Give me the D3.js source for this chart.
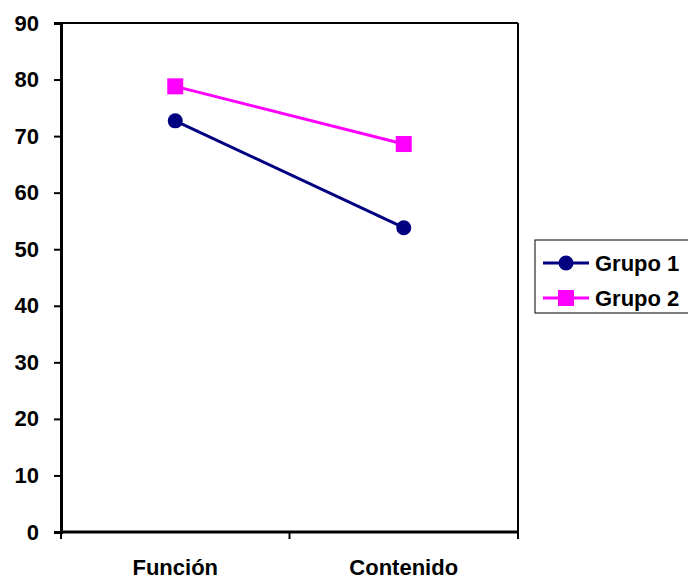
<!DOCTYPE html>
<html>
<head>
<meta charset="utf-8">
<script src="https://cdn.jsdelivr.net/npm/d3@7"></script>
<style>
  body { margin: 0; background: #fff; overflow: hidden; }
  text { font-family: "Liberation Sans", Arial, sans-serif; font-weight: bold; }
</style>
</head>
<body>
<div id="chart"></div>
<script>
var categories = ['Función', 'Contenido']
var grupo1 = [72.7, 53.8]
var grupo2 = [78.8, 68.6]
var yTicks = [0, 10, 20, 30, 40, 50, 60, 70, 80, 90]
var seriesNames = ['Grupo 1', 'Grupo 2']
var seriesColors = ['#000080', '#FF00FF']

var width = 688, height = 577
var margin = {top: 23, left: 61, right: 170, bottom: 45}
var plotW = 518 - margin.left, plotH = 532 - margin.top

var svg = d3.select('#chart').append('svg').attr('width', width).attr('height', height)

var x = d3.scaleBand().domain(categories).range([0, plotW])
var y = d3.scaleLinear().domain([0, 90]).range([plotH, 0])

var g = svg.append('g').attr('transform', 'translate(' + margin.left + ',' + margin.top + ')')

// frame top / right
g.append('line').attr('x1', 0).attr('x2', plotW).attr('y1', 0).attr('y2', 0).attr('stroke', '#000').attr('stroke-width', 2)
g.append('line').attr('x1', plotW).attr('x2', plotW).attr('y1', 0).attr('y2', plotH).attr('stroke', '#000').attr('stroke-width', 2)

// y axis
var yAxis = d3.axisLeft(y).tickValues(yTicks).tickSize(7).tickPadding(15)
var ya = g.append('g').call(yAxis)
ya.select('.domain').attr('stroke-width', 3)
ya.selectAll('.tick line').attr('stroke-width', 2)
ya.selectAll('.tick text').attr('font-size', 22).attr('fill', '#000')
  .style('font-family', '"Liberation Sans", Arial, sans-serif').style('font-weight', 'bold')

// x axis: ticks at band edges
var xa = g.append('g').attr('transform', 'translate(0,' + plotH + ')')
xa.append('line').attr('x1', 0).attr('x2', plotW).attr('stroke', '#000').attr('stroke-width', 3)
var edges = categories.map(c => x(c)).concat([plotW])
xa.selectAll('line.tk').data(edges).enter().append('line').attr('class', 'tk')
  .attr('x1', d => d).attr('x2', d => d).attr('y1', 0).attr('y2', 7)
  .attr('stroke', '#000').attr('stroke-width', 2)
xa.selectAll('text').data(categories).enter().append('text')
  .attr('x', d => x(d) + x.bandwidth() / 2).attr('y', 43)
  .attr('text-anchor', 'middle').attr('font-size', 22).text(d => d)

var line = d3.line().x((d, i) => x(categories[i]) + x.bandwidth() / 2).y(d => y(d))

;[grupo1, grupo2].forEach((s, k) => {
  g.append('path').datum(s).attr('d', line).attr('fill', 'none')
    .attr('stroke', seriesColors[k]).attr('stroke-width', 3)
})
g.selectAll('circle.g1').data(grupo1).enter().append('circle')
  .attr('cx', (d, i) => x(categories[i]) + x.bandwidth() / 2).attr('cy', d => y(d))
  .attr('r', 7.5).attr('fill', seriesColors[0])
g.selectAll('rect.g2').data(grupo2).enter().append('rect')
  .attr('x', (d, i) => x(categories[i]) + x.bandwidth() / 2 - 8).attr('y', d => y(d) - 8)
  .attr('width', 16).attr('height', 16).attr('fill', seriesColors[1])

// legend
var lg = svg.append('g').attr('transform', 'translate(535,240)')
lg.append('rect').attr('x', 0).attr('y', 0).attr('width', 160).attr('height', 73)
  .attr('fill', '#fff').attr('stroke', '#000').attr('stroke-width', 1)
seriesNames.forEach((n, k) => {
  var yy = 23 + k * 35
  lg.append('line').attr('x1', 8).attr('x2', 54).attr('y1', yy).attr('y2', yy)
    .attr('stroke', seriesColors[k]).attr('stroke-width', 3)
  if (k === 0) {
    lg.append('circle').attr('cx', 31).attr('cy', yy).attr('r', 7.5).attr('fill', seriesColors[k])
  } else {
    lg.append('rect').attr('x', 23).attr('y', yy - 8).attr('width', 16).attr('height', 16).attr('fill', seriesColors[k])
  }
  lg.append('text').attr('x', 60).attr('y', yy + 8).attr('font-size', 22).text(n)
})
</script>
</body>
</html>
